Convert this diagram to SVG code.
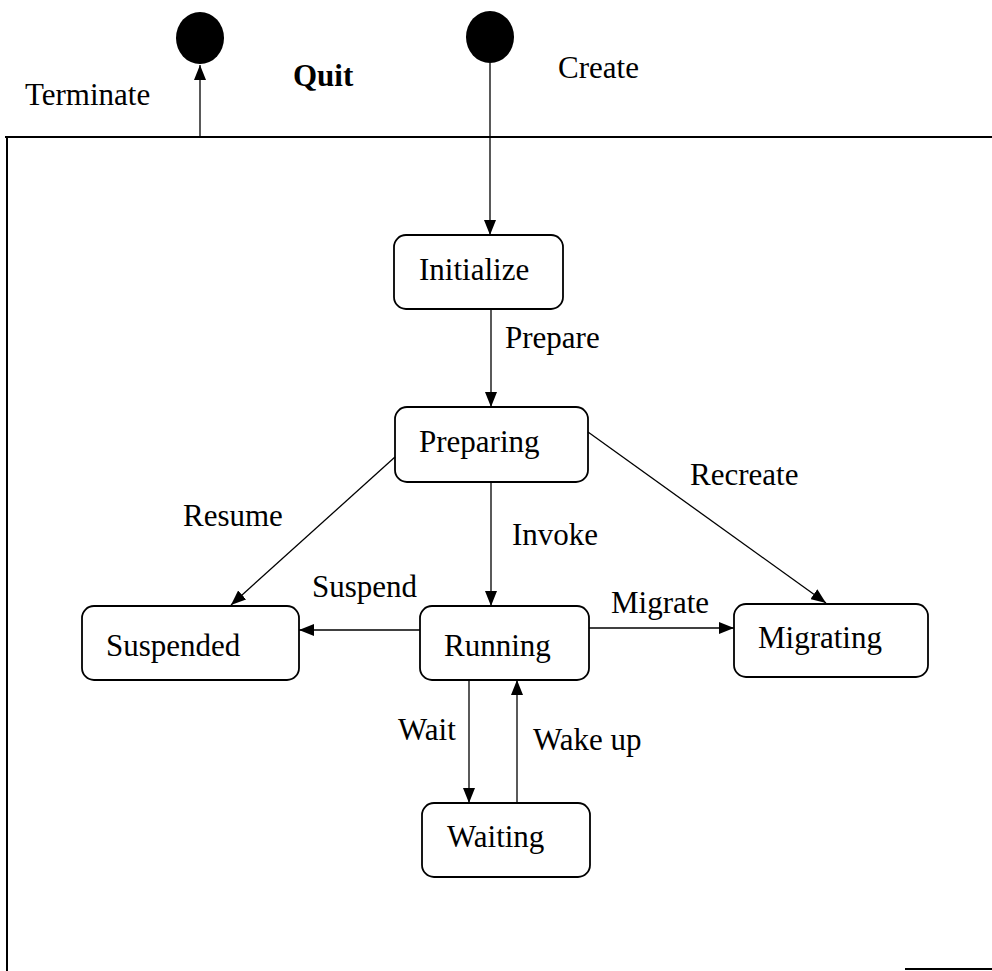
<svg xmlns="http://www.w3.org/2000/svg" width="992" height="971" viewBox="0 0 992 971">
  <style>
    text { font-family: "Liberation Serif", "Times New Roman", serif; font-size: 31px; fill: #000; }
    .bold { font-weight: bold; }
    .state { fill: #fff; stroke: #000; stroke-width: 1.8; }
    .edge { fill: none; stroke: #000; stroke-width: 1.3; }
    .frame { fill: none; stroke: #000; stroke-width: 2; }
    .pseudo { fill: #000; }
  </style>
  <defs>
    <marker id="arrow" viewBox="0 0 15 12" refX="15" refY="6" markerWidth="15" markerHeight="12" markerUnits="userSpaceOnUse" orient="auto">
      <path d="M0,0 L15,6 L0,12 Z" fill="#000"/>
    </marker>
  </defs>

  <!-- enclosing frame -->
  <g id="frame">
    <line class="frame" x1="5" y1="137" x2="992" y2="137"/>
    <line class="frame" x1="7" y1="137" x2="7" y2="971"/>
    <line class="frame" x1="905" y1="969" x2="992" y2="969"/>
  </g>

  <!-- pseudo states -->
  <g id="final">
    <ellipse class="pseudo" cx="200" cy="38" rx="24" ry="26"/>
  </g>
  <g id="initial">
    <ellipse class="pseudo" cx="490" cy="37" rx="24" ry="26"/>
  </g>

  <!-- states -->
  <g id="initialize">
    <rect class="state" x="394" y="235" width="169" height="74" rx="12"/>
    <text x="419" y="280">Initialize</text>
  </g>
  <g id="preparing">
    <rect class="state" x="395" y="407" width="193" height="75" rx="12"/>
    <text x="419" y="452">Preparing</text>
  </g>
  <g id="suspended">
    <rect class="state" x="82" y="606" width="217" height="74" rx="12"/>
    <text x="106" y="656">Suspended</text>
  </g>
  <g id="running">
    <rect class="state" x="420" y="606" width="169" height="74" rx="12"/>
    <text x="444" y="656">Running</text>
  </g>
  <g id="migrating">
    <rect class="state" x="734" y="604" width="194" height="73" rx="12"/>
    <text x="758" y="648">Migrating</text>
  </g>
  <g id="waiting">
    <rect class="state" x="422" y="803" width="168" height="74" rx="12"/>
    <text x="447" y="847">Waiting</text>
  </g>

  <!-- transitions -->
  <g id="connectors">
    <line class="edge" x1="200" y1="137" x2="200" y2="65" marker-end="url(#arrow)"/>
    <line class="edge" x1="490" y1="63" x2="490" y2="235" marker-end="url(#arrow)"/>
    <line class="edge" x1="491" y1="309" x2="491" y2="407" marker-end="url(#arrow)"/>
    <line class="edge" x1="395" y1="457" x2="231" y2="605" marker-end="url(#arrow)"/>
    <line class="edge" x1="588" y1="432" x2="826" y2="603" marker-end="url(#arrow)"/>
    <line class="edge" x1="491" y1="482" x2="491" y2="606" marker-end="url(#arrow)"/>
    <line class="edge" x1="420" y1="630" x2="299" y2="630" marker-end="url(#arrow)"/>
    <line class="edge" x1="589" y1="628" x2="734" y2="628" marker-end="url(#arrow)"/>
    <line class="edge" x1="469" y1="680" x2="469" y2="803" marker-end="url(#arrow)"/>
    <line class="edge" x1="517" y1="803" x2="517" y2="680" marker-end="url(#arrow)"/>
  </g>

  <!-- transition labels -->
  <g id="labels">
    <text x="25" y="105">Terminate</text>
    <text class="bold" x="293" y="86">Quit</text>
    <text x="558" y="78">Create</text>
    <text x="505" y="348">Prepare</text>
    <text x="183" y="526">Resume</text>
    <text x="690" y="485">Recreate</text>
    <text x="512" y="545">Invoke</text>
    <text x="312" y="597">Suspend</text>
    <text x="611" y="613">Migrate</text>
    <text x="398" y="740">Wait</text>
    <text x="533" y="750">Wake up</text>
  </g>
</svg>
